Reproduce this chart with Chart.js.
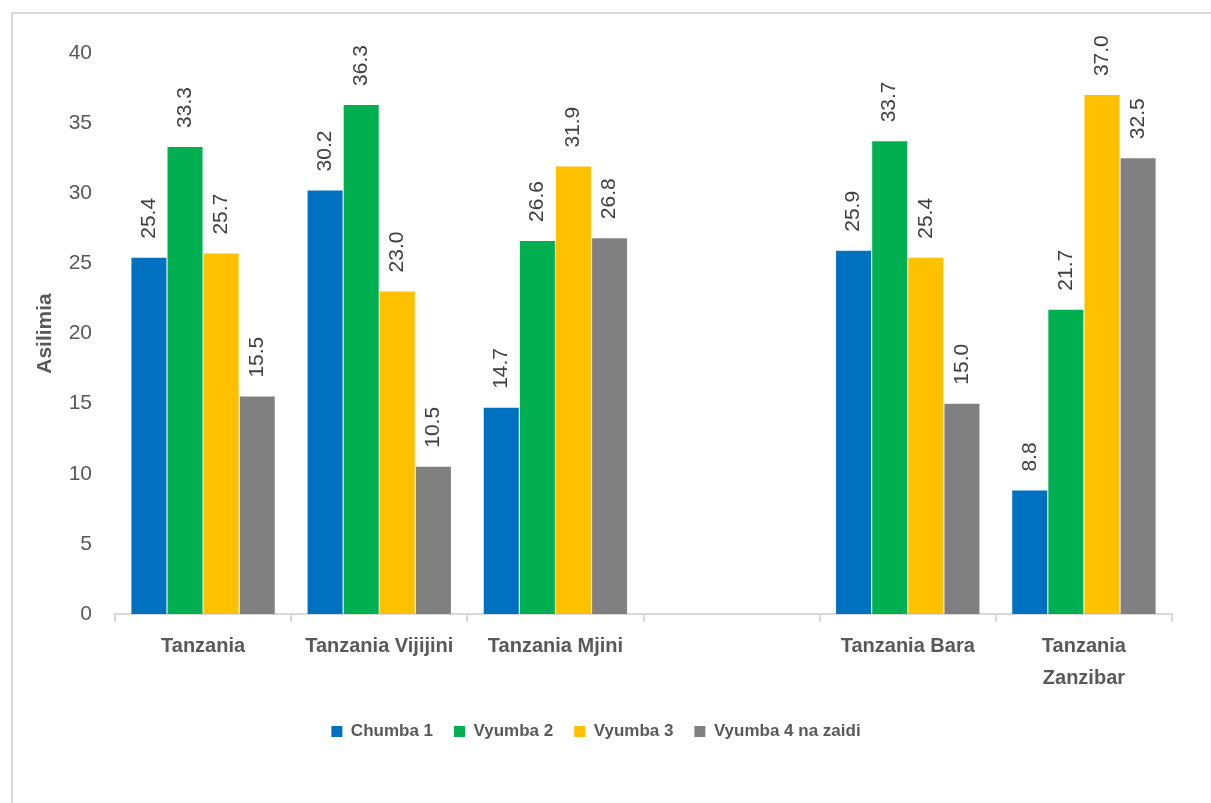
<!DOCTYPE html>
<html>
<head>
<meta charset="utf-8">
<title>Asilimia ya kaya kwa idadi ya vyumba vya kulala</title>
<script src="https://cdn.jsdelivr.net/npm/chart.js@4.4.1/dist/chart.umd.min.js"></script>
<style>
  html, body { margin: 0; padding: 0; background: #ffffff; }
  #wrap { width: 1211px; height: 803px; position: relative; }
</style>
</head>
<body>
<div id="wrap"><canvas id="chart" width="1211" height="803"></canvas></div>
<script>
// Data (asilimia)
const categories = ['Tanzania', 'Tanzania Vijijini', 'Tanzania Mjini', '', 'Tanzania Bara', ['Tanzania', 'Zanzibar']];
const seriesNames = ['Chumba 1', 'Vyumba 2', 'Vyumba 3', 'Vyumba 4 na zaidi'];
const chumba1 = [25.4, 30.2, 14.7, null, 25.9, 8.8];
const vyumba2 = [33.3, 36.3, 26.6, null, 33.7, 21.7];
const vyumba3 = [25.7, 23.0, 31.9, null, 25.4, 37.0];
const vyumba4 = [15.5, 10.5, 26.8, null, 15.0, 32.5];
const yTicks = [0, 5, 10, 15, 20, 25, 30, 35, 40];

const colors = ['#0070C0', '#00B050', '#FFC000', '#808080'];
const FONT = '"Liberation Sans Narrow", "Arial Narrow", "Liberation Sans", Arial, sans-serif';
const textColor = '#595959';

// Lebo za thamani juu ya kila nguzo (zimezungushwa)
const valueLabels = {
    id: 'valueLabels',
    afterDatasetsDraw(chart) {
        const ctx = chart.ctx;
        ctx.save();
        ctx.font = '21px ' + FONT;
        ctx.fillStyle = '#404040';
        ctx.textAlign = 'left';
        ctx.textBaseline = 'middle';
        chart.data.datasets.forEach((ds, i) => {
            const meta = chart.getDatasetMeta(i);
            meta.data.forEach((bar, j) => {
                const v = ds.data[j];
                if (v === null || v === undefined) return;
                ctx.save();
                ctx.translate(bar.x, bar.y - 19);
                ctx.rotate(-Math.PI / 2);
                ctx.fillText(v.toFixed(1), 0, 0);
                ctx.restore();
            });
        });
        ctx.restore();
    }
};

// Fremu ya chati
const frame = {
    id: 'frame',
    beforeDraw(chart) {
        const ctx = chart.ctx;
        ctx.save();
        ctx.fillStyle = '#ffffff';
        ctx.fillRect(0, 0, chart.width, chart.height);
        ctx.strokeStyle = '#d9d9d9';
        ctx.lineWidth = 2;
        ctx.strokeRect(12, 13, chart.width + 20, chart.height + 20);
        ctx.restore();
    }
};

const data = [chumba1, vyumba2, vyumba3, vyumba4];

new Chart(document.getElementById('chart'), {
    type: 'bar',
    data: {
        labels: categories,
        datasets: seriesNames.map((name, i) => ({
            label: name,
            data: data[i],
            backgroundColor: colors[i],
            borderWidth: 0,
            categoryPercentage: 0.82,
            barPercentage: 0.97
        }))
    },
    options: {
        responsive: false,
        animation: false,
        layout: { padding: { left: 20, right: 39, top: 53, bottom: 53 } },
        plugins: {
            legend: {
                position: 'bottom',
                labels: {
                    color: textColor,
                    font: { family: FONT, size: 17, weight: 'bold' },
                    boxWidth: 11,
                    boxHeight: 11,
                    padding: 21
                }
            },
            tooltip: { enabled: false }
        },
        scales: {
            x: {
                afterFit(scale) { scale.height = 88; },
                grid: {
                    display: true,
                    drawOnChartArea: false,
                    color: '#d9d9d9',
                    lineWidth: 2,
                    tickLength: 8,
                    offset: true
                },
                border: { color: '#d9d9d9', width: 2 },
                ticks: {
                    color: textColor,
                    font: { family: FONT, size: 20, weight: 'bold', lineHeight: 1.6 },
                    maxRotation: 0,
                    autoSkip: false,
                    padding: 8
                }
            },
            y: {
                min: 0,
                max: 40,
                afterBuildTicks(scale) {
                    scale.ticks = yTicks.map(v => ({ value: v }));
                },
                afterFit(scale) { scale.width = 95; },
                grid: { display: false, drawTicks: false },
                border: { display: false },
                ticks: {
                    color: textColor,
                    font: { family: FONT, size: 21 },
                    padding: 23
                },
                title: {
                    display: true,
                    text: 'Asilimia',
                    color: textColor,
                    font: { family: FONT, size: 21, weight: 'bold' },
                    padding: { top: 13, bottom: 0 }
                }
            }
        }
    },
    plugins: [frame, valueLabels]
});
</script>
</body>
</html>
